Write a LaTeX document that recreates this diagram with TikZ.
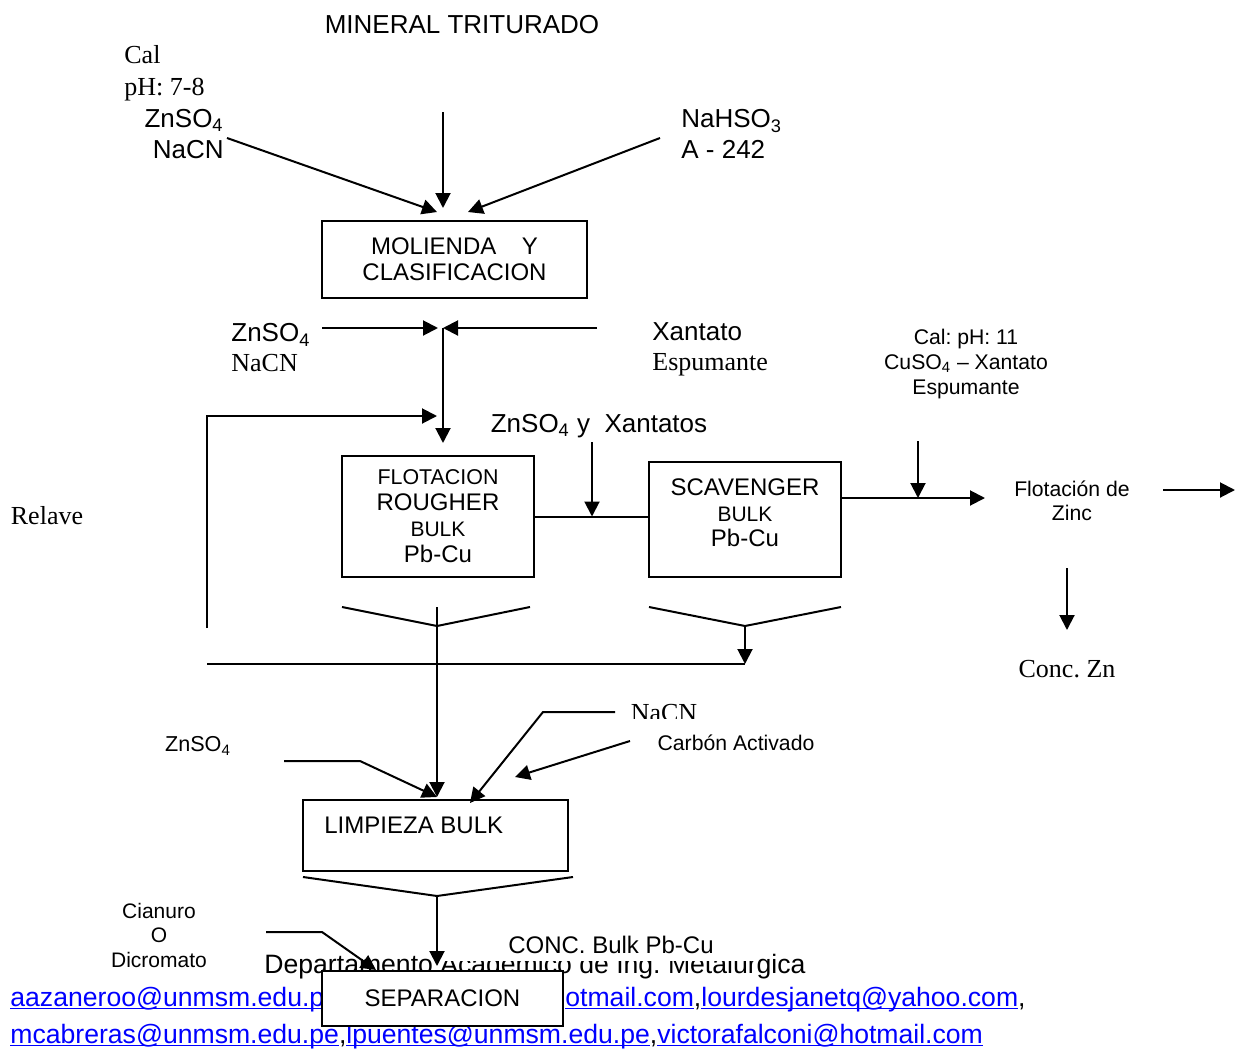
\documentclass[tikz,border=0pt]{standalone}
\usepackage{fontspec}
\setmainfont{Liberation Sans}
\newfontfamily\tnrfont{Liberation Serif}
\usetikzlibrary{arrows.meta,positioning}
\definecolor{linkblue}{RGB}{0,0,255}
\frenchspacing
\newcommand{\lblfont}{\fontsize{13}{15.5}\selectfont}
\newcommand{\boxfont}{\fontsize{12}{13}\selectfont}
\newcommand{\smlfont}{\fontsize{10.6}{12.5}\selectfont}
\newcommand{\tnr}{\fontsize{13}{15.5}\tnrfont}
\newcommand{\footfont}{\fontsize{13.3}{16}\selectfont}
\newsavebox{\mailbox}
\newcommand{\mail}[1]{\textcolor{linkblue}{\sbox{\mailbox}{#1}\rlap{\rule[-1.6pt]{\wd\mailbox}{0.7pt}}\usebox{\mailbox}}}

\begin{document}
\begin{tikzpicture}[x=0.5pt,y=-0.5pt,>={Triangle[length=7.5pt,width=7.5pt]},
  every node/.style={inner sep=0pt,font=\lblfont},
  stage/.style={draw,fill=white,line width=1pt,align=center,font=\boxfont},
  flow/.style={->,line width=1pt},
  pipe/.style={line width=1pt}]
  \useasboundingbox (0,0) rectangle (1244,1050);

  % pie de pagina (queda debajo de las cajas)
  \node[font=\footfont,anchor=base] (footer) at (535,973)
    {Departamento Académico de Ing. Metalúrgica};
  \node[font=\footfont,anchor=base west] (mailA) at (10,1006)
    {\mail{aazaneroo@unmsm.edu.pe},};
  \node[font=\footfont,anchor=base west] (mailB) at (565,1006)
    {\mail{otmail.com},\mail{lourdesjanetq@yahoo.com},};
  \node[font=\footfont,anchor=base west] (mailC) at (10,1043)
    {\mail{mcabreras@unmsm.edu.pe},\mail{lpuentes@unmsm.edu.pe},\mail{victorafalconi@hotmail.com}};
  \node[fill=white,font=\boxfont,minimum width=158.5pt,minimum height=16.5pt]
    (conc) at (598.5,944.5) {\hspace*{12.5pt}CONC. Bulk Pb-Cu};

  % etapas
  \node[stage,minimum width=132.5pt,minimum height=38.5pt] (molienda) at (454.5,259.5)
    {MOLIENDA\hspace{12.8pt}Y\\CLASIFICACION};
  \node[stage,minimum width=96pt,minimum height=60.5pt] (rougher) at (438,516.5)
    {{\fontsize{10.7}{13}\selectfont FLOTACION}\\ROUGHER\\{\fontsize{10.5}{13}\selectfont BULK}\\Pb-Cu};
  \node[stage,minimum width=96pt,minimum height=57.5pt] (scav) at (745,519.5) {};
  \node[align=center,font=\fontsize{12}{12.75}\selectfont] (scavtxt) at (745,513)
    {SCAVENGER\\{\fontsize{10.5}{12.75}\selectfont BULK}\\Pb-Cu};
  \node[stage,minimum width=132.5pt,minimum height=35.5pt] (limpieza) at (435.5,835.5) {};
  \node[font=\boxfont,anchor=west] (limptxt) at (324,825) {LIMPIEZA BULK};
  \node[stage,minimum width=120.5pt,minimum height=27.5pt] (separ) at (442.5,998.5) {SEPARACION};

  % reactivos y rotulos
  \node (mineral) at (462,25) {MINERAL TRITURADO};
  \node[font=\fontsize{13}{16}\tnrfont,align=left,anchor=west] (calph) at (124,73) {Cal\\pH: 7-8};
  \node[align=right,anchor=east] (reagA) at (224,134) {ZnSO\textsubscript{4}\\NaCN};
  \node[align=left,anchor=west] (reagB) at (681,134) {NaHSO\textsubscript{3}\\A - 242};
  \node[align=left,anchor=west,font=\fontsize{13}{15}\selectfont] (reagC) at (231,348)
    {ZnSO\textsubscript{4}\\{\tnrfont NaCN}};
  \node[align=left,anchor=west,font=\fontsize{13}{15}\selectfont] (xant) at (652,349)
    {Xantato\\{\tnrfont Espumante}};
  \node[font=\tnr] (relave) at (47,516) {Relave};
  \node (xantatos) at (599,426) {ZnSO\textsubscript{4} y\ \ Xantatos};
  \node[align=center,font=\smlfont] (calzinc) at (966,364) {Cal: pH: 11\\CuSO\textsubscript{4} -- Xantato\\Espumante};
  \node[align=center,font=\fontsize{10.6}{12}\selectfont] (zinc) at (1072,501) {Flotación de\\Zinc};
  \node[font=\tnr] (conczn) at (1067,669) {Conc. Zn};
  \node[font=\fontsize{10.8}{13}\selectfont] (znsoL) at (198,746) {ZnSO\textsubscript{4}};
  \begin{scope}
    \clip (600,690) rectangle (720,718);
    \node[font=\tnr] (nacnL) at (664,713) {NaCN};
  \end{scope}
  \node[font=\smlfont] (carbon) at (736,743) {Carbón Activado};
  \node[align=center,font=\fontsize{10.5}{12.25}\selectfont] (cianuro) at (159,935) {Cianuro\\O\\Dicromato};

  % puntos libres de las lineas
  \coordinate (pA) at (227,138);   \coordinate (tA) at (437,212);
  \coordinate (pM) at (443,112);   \coordinate (tM) at (443,208);
  \coordinate (pB) at (660,138);   \coordinate (tB) at (468,212);
  \coordinate (pC) at (322,328);   \coordinate (jC) at (443,328);
  \coordinate (pX) at (597,328);
  \coordinate (tR) at (443,443);
  \coordinate (rvA) at (207,628);  \coordinate (rvB) at (207,416);  \coordinate (rvC) at (437,416);
  \coordinate (pY) at (592,442);
  \coordinate (tZ) at (985,498);   \coordinate (pZ) at (918,441);
  \coordinate (pF) at (1163,490);  \coordinate (tF) at (1235,490);
  \coordinate (pK) at (1067,568);  \coordinate (tK) at (1067,630);
  \coordinate (yA1) at (342,607);  \coordinate (yA) at (437,626);  \coordinate (yA2) at (530,607);
  \coordinate (yB1) at (649,607);  \coordinate (yB) at (745,626);  \coordinate (yB2) at (841,607);
  \coordinate (hL) at (207,664);   \coordinate (hR) at (745,664);
  \coordinate (tL) at (437,797);
  \coordinate (zA) at (284,761);   \coordinate (zB) at (360,761);
  \coordinate (nA) at (615,712);   \coordinate (nB) at (543,712);   \coordinate (nT) at (470,803);
  \coordinate (cA) at (630,741);   \coordinate (cT) at (515,777);
  \coordinate (yC1) at (303,877);  \coordinate (yC) at (437,896);  \coordinate (yC2) at (573,877);
  \coordinate (tS) at (437,966);
  \coordinate (dA) at (266,932);   \coordinate (dB) at (322,932);   \coordinate (dT) at (376,970);

  % molienda
  \draw[flow] (pA) -- (tA);
  \draw[flow] (pM) -- (tM);
  \draw[flow] (pB) -- (tB);
  % alimentacion a rougher
  \draw[flow] (pC) -- ([xshift=-2.5pt]jC);
  \draw[flow] (pX) -- (jC);
  \draw[flow] (jC) -- (tR);
  \draw[flow] (rvA) -- (rvB) -- (rvC);
  \draw[pipe] (rougher.east) -- (rougher.east -| scav.west);
  \draw[flow] (pY) -- (pY |- rougher.east);
  % zinc
  \draw[pipe,->] ([yshift=10.75pt]scav.east) -- (tZ);
  \draw[flow] (pZ) -- (pZ |- tZ);
  \draw[flow] (pF) -- (tF);
  \draw[flow] (pK) -- (tK);
  % concentrados a limpieza
  \draw[pipe] (yA1) -- (yA) -- (yA2);
  \draw[flow] (yA |- yA1) -- (tL);
  \draw[pipe] (yB1) -- (yB) -- (yB2);
  \draw[flow] (yB) -- (hR);
  \draw[pipe] (hL) -- (hR);
  \draw[flow] (zA) -- (zB) -- (tL);
  \draw[flow] (nA) -- (nB) -- (nT);
  \draw[flow] (cA) -- (cT);
  % separacion
  \draw[pipe] (yC1) -- (yC) -- (yC2);
  \draw[flow] (yC) -- (tS);
  \draw[flow] (dA) -- (dB) -- (dT);
\end{tikzpicture}
\end{document}
